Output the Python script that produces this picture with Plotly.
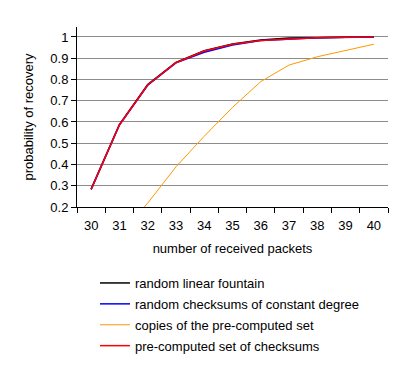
import plotly.graph_objects as go

packets = ["30", "31", "32", "33", "34", "35", "36", "37", "38", "39", "40"]

random_linear_fountain = [0.284, 0.588, 0.776, 0.881, 0.935, 0.967, 0.986, 0.995, 0.997, 0.999, 1.0]
random_checksums_const = [0.283, 0.586, 0.773, 0.878, 0.928, 0.962, 0.984, 0.991, 0.996, 0.999, 1.0]
copies_precomputed = [0.01, 0.07, 0.218, 0.389, 0.533, 0.669, 0.79, 0.868, 0.907, 0.938, 0.966]
precomputed_checksums = [0.283, 0.586, 0.774, 0.879, 0.934, 0.966, 0.984, 0.991, 0.996, 0.999, 1.0]

y_ticks = [0.2, 0.3, 0.4, 0.5, 0.6, 0.7, 0.8, 0.9, 1.0]
y_tick_text = ["0.2", "0.3", "0.4", "0.5", "0.6", "0.7", "0.8", "0.9", "1"]

series = [
    ("random linear fountain", random_linear_fountain, "#000000", 1.5),
    ("random checksums of constant degree", random_checksums_const, "#0000FF", 1.5),
    ("copies of the pre-computed set", copies_precomputed, "#FF9900", 1),
    ("pre-computed set of checksums", precomputed_checksums, "#FF0000", 1.5),
]

fig = go.Figure()
for i, (name, vals, color, w) in enumerate(series):
    fig.add_trace(go.Scatter(x=packets, y=vals, mode="lines", name=name,
                             legendgroup=f"g{i}",
                             line=dict(color=color, width=w), cliponaxis=True))

font = dict(family="Liberation Sans, Arial, sans-serif", size=13, color="#000000")

# page body adds an 8px offset; plot area in figure coords: x 69..380, y 19..199
L, R, T, B = 69, 380, 19, 199
H = B - T
W = R - L

fig.update_layout(
    width=404, height=366,
    margin=dict(l=L, r=404 - R, t=T, b=366 - B, autoexpand=False),
    paper_bgcolor="white", plot_bgcolor="white",
    font=font,
    showlegend=True,
    legend=dict(x=(87 - L) / W, y=(B - 260) / H, xanchor="left", yanchor="top",
                font=font, bgcolor="rgba(0,0,0,0)", tracegroupgap=1, itemwidth=30),
    xaxis=dict(type="category", range=[-0.5, 10.5], tickson="boundaries",
               ticks="outside", ticklen=5, tickcolor="#000000", showline=True,
               linecolor="#000000", linewidth=1, showgrid=False, zeroline=False,
               automargin=False, ticklabelstandoff=6,
               title=dict(text="number of received packets", font=font, standoff=12),
               tickfont=font),
    yaxis=dict(range=[0.2, 1.047], tickvals=y_ticks, ticktext=y_tick_text,
               ticks="outside", ticklen=5, tickcolor="#000000", showline=True,
               linecolor="#000000", linewidth=1, showgrid=True, gridcolor="#8C8C8C",
               gridwidth=1, zeroline=False, automargin=False, ticklabelstandoff=0,
               title=dict(text="probability of recovery", font=font, standoff=13),
               tickfont=font),
)

fig.write_html("out.html")
